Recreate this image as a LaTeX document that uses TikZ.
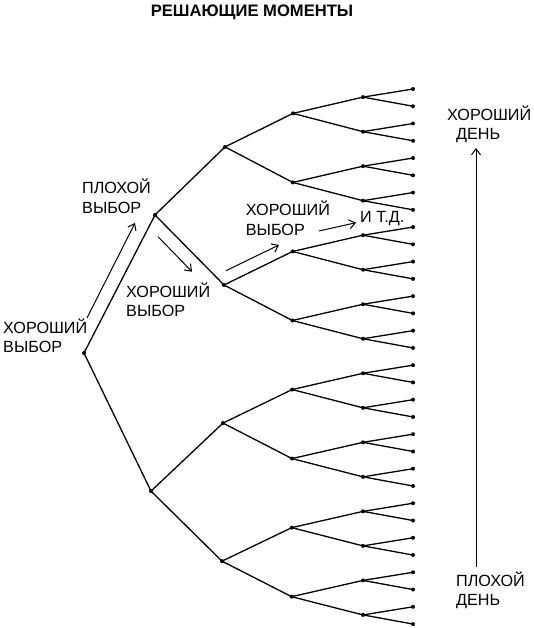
\documentclass[tikz,border=0pt]{standalone}
\usepackage{fontspec}
\setmainfont{Liberation Sans}
\usetikzlibrary{arrows.meta,positioning}

\begin{document}
\begin{tikzpicture}
[x=1pt, y=-1pt, font=\fontsize{16.2}{19.5}\selectfont,
% STYLES
% The dot style marks each decision point of the tree
dot/.style={circle, fill, inner sep=0pt, minimum size=4pt},
branch/.style={line width=1.3pt},
% The label style is used for the texts beside the tree
label_text/.style={anchor=base west, align=left, inner sep=0pt},
move/.style={line width=1pt, -{Straight Barb[length=6pt,width=9pt]}},
headline/.style={anchor=base, inner sep=0pt, font=\fontsize{16.6}{19}\selectfont\bfseries}]

\useasboundingbox (0,0) rectangle (534,628);

% Draw the tree, level by level
\foreach \k/\xx/\dx/\off in {0/84/0/3.5, 1/155/4/3.5, 2/225/1/2.5, 3/293/0.2/1.5, 4/363/0/0.5, 5/413/0/0} {
  \pgfmathtruncatemacro\lastj{2^\k-1}
  \pgfmathtruncatemacro\spread{2^(5-\k)}
  \foreach \j in {0,...,\lastj} {
    \pgfmathsetmacro\yy{89+17.26*(\j*\spread+(\spread-1)/2)-\off}
    \node [dot] (n-\k-\j) at (\xx-\dx*\j, \yy) {};
  }
}

\foreach \k in {1,...,5} {
  \pgfmathtruncatemacro\lastj{2^\k-1}
  \pgfmathtruncatemacro\up{\k-1}
  \foreach \j in {0,...,\lastj} {
    \pgfmathtruncatemacro\p{div(\j,2)}
    \draw [branch] (n-\up-\p.center) -- (n-\k-\j.center);
  }
}

%%%%%%%%%%%%%%%

\node [headline] (title) at (252,16.7) {РЕШАЮЩИЕ МОМЕНТЫ};

% choices along the tree (anchored at the last line)
\node [label_text] (good-first) at (3,352.7) {ХОРОШИЙ\\ВЫБОР};
\node [label_text] (bad-choice) at (82,213) {ПЛОХОЙ\\ВЫБОР};
\node [label_text] (good-second) at (126,316.7) {ХОРОШИЙ\\ВЫБОР};
\node [label_text] (good-third) at (245.7,235) {ХОРОШИЙ\\ВЫБОР};
\node [label_text] (etc) at (360,222.7) {И Т.Д.};

% the scale of days
\node [label_text] (good-day) at (447,140) {ХОРОШИЙ\\\hspace*{9pt}ДЕНЬ};
\node [label_text] (bad-day) at (456,605.7) {ПЛОХОЙ\\ДЕНЬ};

%%%%%%%%%%%%%%%%

\coordinate (a1-from) at (87,318);
\coordinate (a1-to) at (135,223);
\coordinate (a2-from) at (158,236.7);
\coordinate (a2-to) at (192,271.7);
\coordinate (a3-from) at (226,270.7);
\coordinate (a3-to) at (279,245);
\coordinate (a4-from) at (319,231);
\coordinate (a4-to) at (356,222.7);
\coordinate (day-top) at (476,148);
\coordinate (day-bottom) at (476,567);

\draw [move] (a1-from) -- (a1-to);
\draw [move] (a2-from) -- (a2-to);
\draw [move] (a3-from) -- (a3-to);
\draw [move] (a4-from) -- (a4-to);
\draw [move, {Straight Barb[length=6pt,width=9pt]}-] (day-top) -- (day-bottom);

\end{tikzpicture}
\end{document}
